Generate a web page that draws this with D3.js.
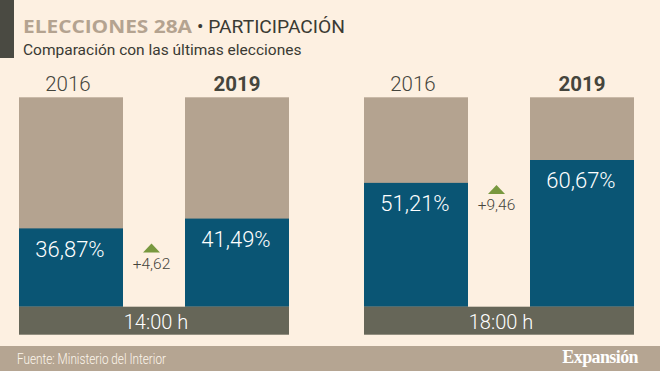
<!DOCTYPE html>
<html>
<head>
<meta charset="utf-8">
<script src="https://cdn.jsdelivr.net/npm/d3@7"></script>
<style>
  html, body { margin: 0; padding: 0; background: #fdf0e1; }
  svg { display: block; }
</style>
</head>
<body>
<svg id="chart" width="660" height="371"></svg>
<script>
// ---- data ----
const panels = ["14:00 h", "18:00 h"];
const years = ["2016", "2019"];
const values2016 = [36.87, 51.21];
const values2019 = [41.49, 60.67];
const deltas = ["+4,62", "+9,46"];
const valueLabels2016 = ["36,87%", "51,21%"];
const valueLabels2019 = ["41,49%", "60,67%"];
const scaleMax = [98.6, 86.6];

(function () {
// ---- style ----
const C = {
  bg: "#fdf0e1", tan: "#b4a390", blue: "#0a5574", strip: "#666658",
  dark: "#45453c", tri: "#78983f", footer: "#b5a592"
};

const svg = d3.select("#chart");
const W = 660, H = 371;
svg.append("rect").attr("width", W).attr("height", H).attr("fill", C.bg);

// header
svg.append("rect").attr("x", 0).attr("y", 0).attr("width", 14).attr("height", 58).attr("fill", "#4a4a42");
svg.append("text").attr("x", 23).attr("y", 33.3)
  .attr("font-family", "Open Sans").attr("font-size", 18).attr("font-weight", 700)
  .attr("fill", C.tan).attr("textLength", 169).attr("lengthAdjust", "spacingAndGlyphs")
  .text("ELECCIONES 28A");
svg.append("text").attr("x", 197).attr("y", 33.3)
  .attr("font-family", "Roboto").attr("font-size", 18.5).attr("font-weight", 400)
  .attr("fill", "#3a3a33").attr("textLength", 148).attr("lengthAdjust", "spacingAndGlyphs")
  .text("• PARTICIPACIÓN");
svg.append("text").attr("x", 23).attr("y", 55)
  .attr("font-family", "Roboto").attr("font-size", 15.5).attr("fill", "#3a3a33")
  .text("Comparación con las últimas elecciones");

// scales
const yTop = 97.3, yBottom = 306.7;
const xPanel = d3.scaleBand().domain(panels).range([19, 634]).paddingInner(0.2174).paddingOuter(0);
const xYear = d3.scaleBand().domain(years).range([0, xPanel.bandwidth()]).paddingInner(0.3735).paddingOuter(0);

const font = "Roboto";

panels.forEach((p, i) => {
  const y = d3.scaleLinear().domain([0, scaleMax[i]]).range([yBottom, yTop]);
  const g = svg.append("g").attr("transform", `translate(${xPanel(p)},0)`);
  const vals = [values2016[i], values2019[i]];
  const labs = [valueLabels2016[i], valueLabels2019[i]];

  years.forEach((yr, j) => {
    const x0 = xYear(yr), bw = xYear.bandwidth();
    g.append("rect").attr("x", x0).attr("y", y(scaleMax[i])).attr("width", bw)
      .attr("height", y(0) - y(scaleMax[i])).attr("fill", C.tan);
    g.append("rect").attr("x", x0).attr("y", y(vals[j])).attr("width", bw)
      .attr("height", y(0) - y(vals[j])).attr("fill", C.blue);
    g.append("text").attr("x", x0 + bw / 2 - 1).attr("y", y(vals[j]) + 28.5)
      .attr("text-anchor", "middle").attr("font-family", font).attr("font-weight", 300)
      .attr("font-size", 22).attr("fill", "#ffffff").text(labs[j]);
    g.append("text").attr("x", x0 + bw / 2 - (j === 0 ? 3 : 0)).attr("y", 90.5)
      .attr("text-anchor", "middle").attr("font-family", font)
      .attr("font-weight", j === 0 ? 300 : 700)
      .attr("font-size", 20.5).attr("fill", C.dark).text(yr);
  });

  // delta indicator
  const gapC = (xYear(years[0]) + xYear.bandwidth() + xYear(years[1])) / 2 - 2.5;
  const ty = y(vals[1]) + 25;
  g.append("path")
    .attr("d", `M${gapC - 8.5},${ty + 9} L${gapC},${ty} L${gapC + 8.5},${ty + 9} Z`)
    .attr("fill", C.tri);
  g.append("text").attr("x", gapC).attr("y", ty + 25.5).attr("text-anchor", "middle")
    .attr("font-family", font).attr("font-weight", 300).attr("font-size", 15.5)
    .attr("fill", C.dark).text(deltas[i]);

  // time strip
  g.append("rect").attr("x", 0).attr("y", yBottom).attr("width", xPanel.bandwidth())
    .attr("height", 28).attr("fill", C.strip);
  g.append("text").attr("x", xPanel.bandwidth() / 2 + 2).attr("y", 328.5)
    .attr("text-anchor", "middle").attr("font-family", font).attr("font-weight", 300)
    .attr("font-size", 20).attr("fill", "#ffffff").text(p);
});

// footer
svg.append("rect").attr("x", 0).attr("y", 346).attr("width", W).attr("height", H - 346).attr("fill", C.footer);
svg.append("text").attr("x", 17).attr("y", 364)
  .attr("font-family", "Roboto").attr("font-size", 14).attr("font-weight", 300)
  .attr("textLength", 149).attr("lengthAdjust", "spacingAndGlyphs")
  .attr("fill", "#fdf6ec").text("Fuente: Ministerio del Interior");
svg.append("text").attr("x", 638).attr("y", 363).attr("text-anchor", "end")
  .attr("font-family", "Liberation Serif, DejaVu Serif").attr("font-weight", 700)
  .attr("font-size", 18).attr("letter-spacing", -0.6)
  .attr("fill", "#ffffff").text("Expansión");
})();
</script>
</body>
</html>
